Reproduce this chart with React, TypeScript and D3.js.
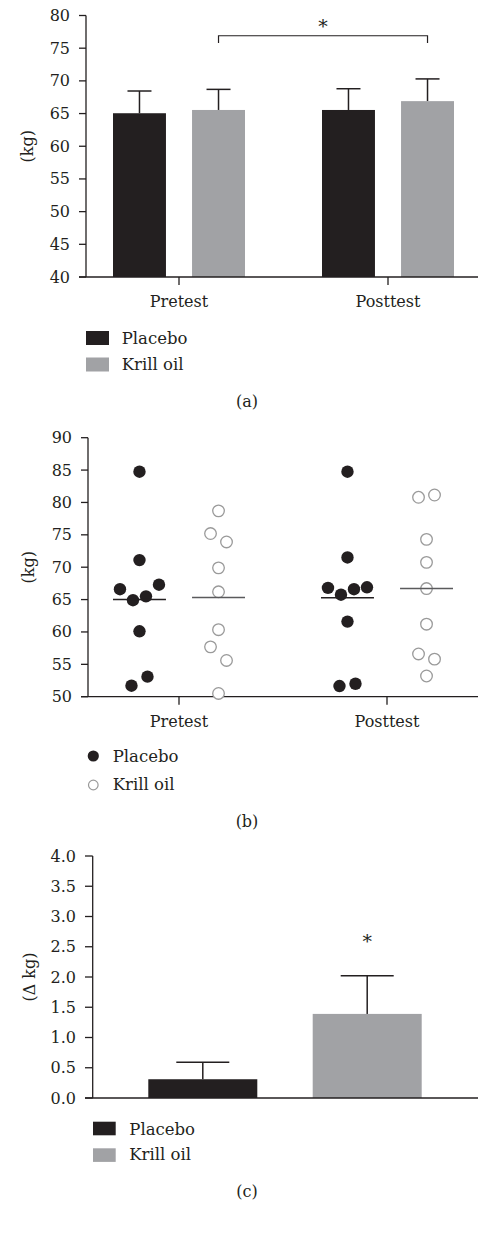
import React from 'react';
import * as d3 from 'd3';

// ---------- DATA ----------
const groups = ['Pretest', 'Posttest'];
const seriesNames = ['Placebo', 'Krill oil'];

// Panel (a): means and SD (kg)
const meanPlacebo = [65.05, 65.55];
const meanKrill = [65.55, 66.9];
const errPlacebo = [3.4, 3.25];
const errKrill = [3.15, 3.4];
const ticksA = [40, 45, 50, 55, 60, 65, 70, 75, 80];
const sigA = { level: 76.9, drop: 75.8, star: 78.4 };

// Panel (b): individual values (kg)
const placeboPre = [84.75, 71.1, 66.6, 64.9, 65.5, 67.3, 60.1, 51.7, 53.1];
const krillPre = [78.7, 75.2, 73.9, 69.9, 66.2, 60.35, 57.7, 55.6, 50.5];
const placeboPost = [84.75, 71.5, 66.8, 65.75, 66.6, 66.9, 61.6, 51.65, 52.0];
const krillPost = [80.8, 81.15, 74.3, 70.75, 66.7, 61.2, 56.6, 55.8, 53.2];
const ticksB = [50, 55, 60, 65, 70, 75, 80, 85, 90];

// Panel (c): change (Δ kg)
const deltaMean = [0.31, 1.39];
const deltaErr = [0.28, 0.63];
const ticksC = [0, 0.5, 1.0, 1.5, 2.0, 2.5, 3.0, 3.5, 4.0];
const sigC = 2.6;

// ---------- STYLE ----------
const INK = '#231f20';
const GRAY = '#a1a2a5';
const OPEN = '#9a9a9a';
const FONT = 'DejaVu Serif';
const FS = 16;
const W = 478;
const H = 1233;

function swarm(values: number[], y: (v: number) => number, cx: number) {
  const idx = values.map((_, i) => i).sort((a, b) => y(values[a]) - y(values[b]));
  const rows: number[][] = [];
  let cur: number[] = [];
  let last = -Infinity;
  for (const i of idx) {
    const py = y(values[i]);
    if (cur.length && py - last > 14.5) {
      rows.push(cur);
      cur = [];
    }
    cur.push(i);
    last = py;
  }
  if (cur.length) rows.push(cur);
  const xs: number[] = new Array(values.length);
  rows.forEach((r) => {
    r.sort((a, b) => a - b);
    const step = r.length <= 2 ? 16 : 13;
    r.forEach((i, k) => {
      xs[i] = cx + (k - (r.length - 1) / 2) * step;
    });
  });
  return xs;
}

function YAxis({ scale, ticks, x, tickLen, fmt, labelGap }: any) {
  const [r0, r1] = scale.range();
  return (
    <g>
      <line x1={x} x2={x} y1={r1} y2={r0} stroke={INK} strokeWidth={1.3} />
      {ticks.map((t: number) => (
        <g key={t}>
          <line x1={x - tickLen} x2={x} y1={scale(t)} y2={scale(t)} stroke={INK} strokeWidth={1.3} />
          <text
            x={x - tickLen - labelGap}
            y={scale(t)}
            textAnchor="end"
            dominantBaseline="central"
            fontFamily={FONT}
            fontSize={FS}
            fill={INK}
          >
            {fmt(t)}
          </text>
        </g>
      ))}
    </g>
  );
}

export default function App() {
  // ---------- Panel (a) ----------
  const yA = d3.scaleLinear().domain([40, 80]).range([277, 15.5]);
  const xA = d3.scalePoint<string>().domain(groups).range([179, 388]);
  const inner = d3.scaleBand<string>().domain(seriesNames).range([-66, 66]).paddingInner(0.33).paddingOuter(0);
  const bwA = inner.bandwidth();
  const barsA = groups.flatMap((g, gi) => [
    { g, s: seriesNames[0], m: meanPlacebo[gi], e: errPlacebo[gi], c: INK },
    { g, s: seriesNames[1], m: meanKrill[gi], e: errKrill[gi], c: GRAY },
  ]);
  const xAbar = (g: string, s: string) => (xA(g) as number) + (inner(s) as number);
  const sigX1 = xAbar('Pretest', 'Krill oil') + bwA / 2;
  const sigX2 = xAbar('Posttest', 'Krill oil') + bwA / 2;

  // ---------- Panel (b) ----------
  const yB = d3.scaleLinear().domain([50, 90]).range([696.7, 437.7]);
  const xB = d3.scalePoint<string>().domain(groups).range([179, 387]);
  const centerB = (g: string, s: string) => (xB(g) as number) + (inner(s) as number) + bwA / 2;
  const setsB = [
    { g: 'Pretest', s: 'Placebo', v: placeboPre, filled: true },
    { g: 'Pretest', s: 'Krill oil', v: krillPre, filled: false },
    { g: 'Posttest', s: 'Placebo', v: placeboPost, filled: true },
    { g: 'Posttest', s: 'Krill oil', v: krillPost, filled: false },
  ];

  // ---------- Panel (c) ----------
  const yC = d3.scaleLinear().domain([0, 4]).range([1098, 856]);
  const xC = d3.scaleBand<string>().domain(seriesNames).range([148.3, 421.7]).paddingInner(0.337).paddingOuter(0);
  const bwC = xC.bandwidth();

  const txt = (props: any, s: string, size = FS) => (
    <text fontFamily={FONT} fontSize={size} fill={INK} {...props}>
      {s}
    </text>
  );

  return (
    <svg
      width={W}
      height={H}
      viewBox={`0 0 ${W} ${H}`}
      style={{ position: 'absolute', left: 0, top: 0, background: '#fff' }}
    >
      <rect x={0} y={0} width={W} height={H} fill="#fff" />
      {/* ===== Panel (a) ===== */}
      <g>
        {barsA.map((b, i) => {
          const x0 = xAbar(b.g, b.s);
          const cx = x0 + bwA / 2;
          return (
            <g key={i}>
              <line x1={cx} x2={cx} y1={yA(b.m)} y2={yA(b.m + b.e)} stroke={INK} strokeWidth={1.5} />
              <line x1={cx - 12} x2={cx + 12} y1={yA(b.m + b.e)} y2={yA(b.m + b.e)} stroke={INK} strokeWidth={1.5} />
              <rect x={x0} y={yA(b.m)} width={bwA} height={yA(40) - yA(b.m)} fill={b.c} />
            </g>
          );
        })}
        <YAxis scale={yA} ticks={ticksA} x={86} tickLen={7} fmt={(t: number) => String(t)} labelGap={9} />
        <line x1={79} x2={W} y1={yA(40)} y2={yA(40)} stroke={INK} strokeWidth={1.3} />
        {groups.map((g) => (
          <g key={g}>
            <line x1={xA(g)} x2={xA(g)} y1={yA(40)} y2={yA(40) + 8} stroke={INK} strokeWidth={1.3} />
            {txt({ x: xA(g), y: 307, textAnchor: 'middle' }, g)}
          </g>
        ))}
        <path
          d={`M${sigX1},${yA(sigA.drop)}V${yA(sigA.level)}H${sigX2}V${yA(sigA.drop)}`}
          fill="none"
          stroke={INK}
          strokeWidth={1.2}
        />
        {txt({ x: (sigX1 + sigX2) / 2, y: yA(sigA.star), textAnchor: 'middle', dominantBaseline: 'central' }, '*', 19)}
        {txt({ transform: `translate(27,${(yA(40) + yA(80)) / 2}) rotate(-90)`, textAnchor: 'middle', dominantBaseline: 'central' }, '(kg)')}
        {/* legend */}
        <rect x={86} y={331} width={23} height={14} fill={INK} />
        <rect x={86} y={357.5} width={23} height={14} fill={GRAY} />
        {txt({ x: 121.7, y: 343.5 }, seriesNames[0], 16.5)}
        {txt({ x: 121.7, y: 370 }, seriesNames[1], 16.5)}
        {txt({ x: 247, y: 407, textAnchor: 'middle' }, '(a)')}
      </g>

      {/* ===== Panel (b) ===== */}
      <g>
        <YAxis scale={yB} ticks={ticksB} x={88} tickLen={7} fmt={(t: number) => String(t)} labelGap={9} />
        <line x1={81} x2={W} y1={yB(50)} y2={yB(50)} stroke={INK} strokeWidth={1.3} />
        {groups.map((g) => (
          <g key={g}>
            <line x1={xB(g)} x2={xB(g)} y1={yB(50)} y2={yB(50) + 8} stroke={INK} strokeWidth={1.3} />
            {txt({ x: xB(g), y: 726.5, textAnchor: 'middle' }, g)}
          </g>
        ))}
        {setsB.map((set, si) => {
          const cx = centerB(set.g, set.s);
          const xs = swarm(set.v, yB, cx);
          const m = d3.mean(set.v) as number;
          return (
            <g key={si}>
              {set.v.map((v, i) =>
                set.filled ? (
                  <circle key={i} cx={xs[i]} cy={yB(v)} r={6.2} fill={INK} />
                ) : (
                  <circle key={i} cx={xs[i]} cy={yB(v)} r={5.8} fill="#fff" stroke={OPEN} strokeWidth={1.3} />
                )
              )}
              <line
                x1={cx - bwA / 2}
                x2={cx + bwA / 2}
                y1={yB(m)}
                y2={yB(m)}
                stroke={set.filled ? INK : '#5a5a5c'}
                strokeWidth={1.5}
              />
            </g>
          );
        })}
        {txt({ transform: `translate(28,${(yB(50) + yB(90)) / 2}) rotate(-90)`, textAnchor: 'middle', dominantBaseline: 'central' }, '(kg)')}
        <circle cx={93.3} cy={756} r={5.6} fill={INK} />
        <circle cx={93.3} cy={785} r={4.8} fill="#fff" stroke={OPEN} strokeWidth={1.2} />
        {txt({ x: 112.7, y: 761.5 }, seriesNames[0], 16.5)}
        {txt({ x: 112.7, y: 790 }, seriesNames[1], 16.5)}
        {txt({ x: 247, y: 826.5, textAnchor: 'middle' }, '(b)')}
      </g>

      {/* ===== Panel (c) ===== */}
      <g>
        {seriesNames.map((s, i) => {
          const x0 = xC(s) as number;
          const cx = x0 + bwC / 2;
          return (
            <g key={s}>
              <line x1={cx} x2={cx} y1={yC(deltaMean[i])} y2={yC(deltaMean[i] + deltaErr[i])} stroke={INK} strokeWidth={1.5} />
              <line
                x1={cx - 26.5}
                x2={cx + 26.5}
                y1={yC(deltaMean[i] + deltaErr[i])}
                y2={yC(deltaMean[i] + deltaErr[i])}
                stroke={INK}
                strokeWidth={1.5}
              />
              <rect x={x0} y={yC(deltaMean[i])} width={bwC} height={yC(0) - yC(deltaMean[i])} fill={i === 0 ? INK : GRAY} />
            </g>
          );
        })}
        <YAxis scale={yC} ticks={ticksC} x={92.7} tickLen={7.7} fmt={d3.format('.1f')} labelGap={9} />
        <line x1={85} x2={W} y1={yC(0)} y2={yC(0)} stroke={INK} strokeWidth={1.3} />
        {txt(
          {
            x: (xC('Krill oil') as number) + bwC / 2,
            y: yC(sigC),
            textAnchor: 'middle',
            dominantBaseline: 'central',
          },
          '*',
          19
        )}
        {txt({ transform: `translate(29,${(yC(0) + yC(4)) / 2}) rotate(-90)`, textAnchor: 'middle', dominantBaseline: 'central' }, '(Δ kg)')}
        <rect x={93} y={1121.7} width={22.7} height={13.6} fill={INK} />
        <rect x={93} y={1148.3} width={22.7} height={13.6} fill={GRAY} />
        {txt({ x: 129.3, y: 1134.5 }, seriesNames[0], 16.5)}
        {txt({ x: 129.3, y: 1160 }, seriesNames[1], 16.5)}
        {txt({ x: 247, y: 1196.5, textAnchor: 'middle' }, '(c)')}
      </g>
    </svg>
  );
}
